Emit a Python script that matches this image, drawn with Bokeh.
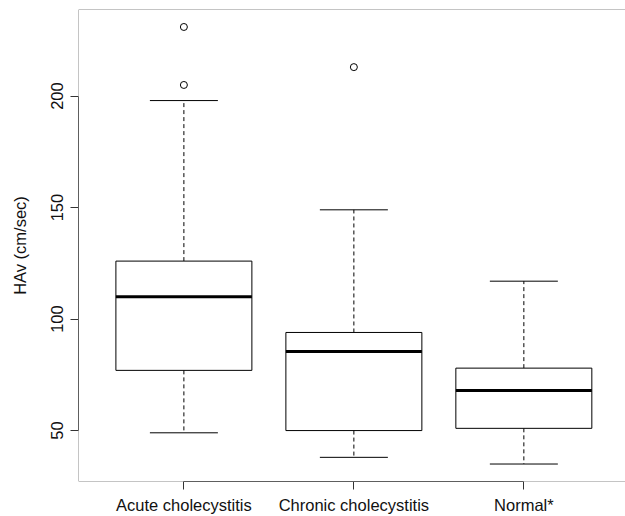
from bokeh.plotting import figure
from bokeh.models import FixedTicker, Span, Range1d, ColumnDataSource
from bokeh.embed import file_html
from bokeh.resources import INLINE

categories = ["Acute cholecystitis", "Chronic cholecystitis", "Normal*"]
positions = [1, 2, 3]
lower_whisker = [49, 38, 35]
q1 = [77, 50, 51]
median = [110, 85.5, 68]
q3 = [126, 94, 78]
upper_whisker = [198, 149, 117]
outlier_pos = [1, 1, 2]
outlier_val = [205, 231, 213]
y_ticks = [50, 100, 150, 200]

FONT = "Liberation Sans"
FS = "16.5px"
BOX_W = 0.8
CAP_W = 0.4

p = figure(width=625, height=516, output_backend="svg", toolbar_location=None,
           x_range=Range1d(0.38, 3.598), y_range=Range1d(27.16, 238.84),
           min_border_left=78, min_border_right=0, min_border_top=9,
           min_border_bottom=34)
p.outline_line_color = None
p.grid.visible = False
p.background_fill_color = "white"
p.border_fill_color = "white"

src = ColumnDataSource(dict(
    x=positions, lw=lower_whisker, q1=q1, med=median, q3=q3, uw=upper_whisker,
    cl=[x - CAP_W / 2 for x in positions], cr=[x + CAP_W / 2 for x in positions],
    bl=[x - BOX_W / 2 for x in positions], br=[x + BOX_W / 2 for x in positions],
))

# whiskers
p.segment(x0="x", y0="q3", x1="x", y1="uw", source=src, line_color="black",
          line_width=1, line_dash="4 3")
p.segment(x0="x", y0="q1", x1="x", y1="lw", source=src, line_color="black",
          line_width=1, line_dash="4 3")
# caps
p.segment(x0="cl", y0="uw", x1="cr", y1="uw", source=src, line_color="black", line_width=1)
p.segment(x0="cl", y0="lw", x1="cr", y1="lw", source=src, line_color="black", line_width=1)
# boxes
p.vbar(x="x", bottom="q1", top="q3", width=BOX_W, source=src, fill_color="white",
       line_color="black", line_width=1)
# medians
p.segment(x0="bl", y0="med", x1="br", y1="med", source=src, line_color="black", line_width=3)
# outliers
p.scatter(x=outlier_pos, y=outlier_val, marker="circle", size=7,
          fill_color=None, line_color="black", line_width=1)

# frame lines (grey)
for loc in (238.84, 27.16):
    p.add_layout(Span(location=loc, dimension="width", line_color="#8a8a8a", line_width=1))
p.add_layout(Span(location=0.38, dimension="height", line_color="#8a8a8a", line_width=1))

# y axis
ya = p.yaxis[0]
ya.ticker = FixedTicker(ticks=y_ticks)
ya.bounds = (50, 200)
ya.axis_line_color = "#333333"
ya.major_tick_line_color = "#333333"
ya.major_tick_out = 8
ya.major_tick_in = 0
ya.minor_tick_line_color = None
ya.major_label_orientation = "vertical"
ya.major_label_text_font = FONT
ya.major_label_text_font_size = FS
ya.major_label_text_color = "#111111"
ya.major_label_standoff = 7
ya.axis_label = "HAv (cm/sec)"
ya.axis_label_text_font = FONT
ya.axis_label_text_font_size = FS
ya.axis_label_text_font_style = "normal"
ya.axis_label_text_color = "#111111"
ya.axis_label_standoff = 20

# x axis
xa = p.xaxis[0]
xa.ticker = FixedTicker(ticks=positions)
xa.major_label_overrides = {pos: c for pos, c in zip(positions, categories)}
xa.bounds = (1, 3)
xa.axis_line_color = "#333333"
xa.major_tick_line_color = "#333333"
xa.major_tick_out = 8
xa.major_tick_in = 0
xa.minor_tick_line_color = None
xa.major_label_text_font = FONT
xa.major_label_text_font_size = FS
xa.major_label_text_color = "#111111"
xa.major_label_standoff = 6

open("out.html", "w").write(file_html(p, INLINE))
